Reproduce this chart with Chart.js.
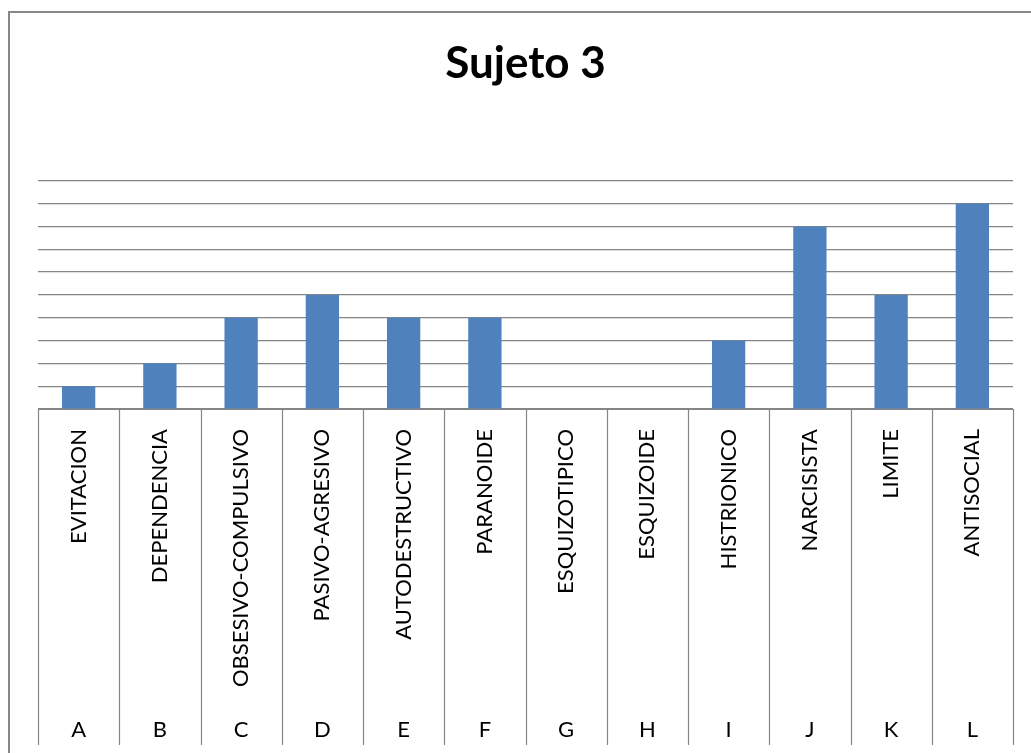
<!DOCTYPE html>
<html>
<head>
<meta charset="utf-8">
<script src="https://cdn.jsdelivr.net/npm/chart.js@4"></script>
<style>
  body { margin: 0; background: #fff; }
  #wrap { width: 1031px; height: 753px; }
</style>
</head>
<body>
<div id="wrap"><canvas id="myChart" width="1031" height="753"></canvas></div>
<script>
var categories = ['EVITACION', 'DEPENDENCIA', 'OBSESIVO-COMPULSIVO', 'PASIVO-AGRESIVO', 'AUTODESTRUCTIVO', 'PARANOIDE',
    'ESQUIZOTIPICO', 'ESQUIZOIDE', 'HISTRIONICO', 'NARCISISTA', 'LIMITE', 'ANTISOCIAL']
var letters = ['A', 'B', 'C', 'D', 'E', 'F', 'G', 'H', 'I', 'J', 'K', 'L']
var values = [1, 2, 4, 5, 4, 4, 0, 0, 3, 8, 5, 9]

var labelFont = 'Lato, "Open Sans", sans-serif'

// borde exterior y lineas de la tabla de categorias
var tablePlugin = {
    id: 'tabla',
    afterDraw: (chart) => {
        var ctx = chart.ctx
        var x = chart.scales.x
        var area = chart.chartArea
        var bottom = chart.scales.x2.bottom
        var half = (x.getPixelForValue(1) - x.getPixelForValue(0)) / 2
        ctx.save()
        ctx.strokeStyle = '#858585'
        ctx.lineWidth = 1.2
        for (var i = 0; i <= categories.length; i++) {
            var px
            if (i < categories.length) {
                px = x.getPixelForValue(i) - half
            } else {
                px = x.getPixelForValue(i - 1) + half
            }
            px = Math.round(px) + 0.5
            ctx.beginPath()
            ctx.moveTo(px, area.bottom)
            ctx.lineTo(px, bottom)
            ctx.stroke()
        }
        ctx.beginPath()
        ctx.moveTo(area.left, Math.round(area.bottom) + 0.5)
        ctx.lineTo(area.right, Math.round(area.bottom) + 0.5)
        ctx.stroke()
        ctx.lineWidth = 2
        ctx.strokeStyle = '#878787'
        ctx.strokeRect(9, 12, 1100, 900)
        ctx.restore()
    }
}

const ctx = document.getElementById('myChart');
const myChart = new Chart(ctx, {
    type: 'bar',
    data: {
        labels: categories,
        datasets: [{
            label: 'Sujeto 3',
            data: values,
            backgroundColor: '#4F81BD',
            borderWidth: 0,
            categoryPercentage: 1,
            barPercentage: 0.41
        }]
    },
    options: {
        responsive: false,
        animation: false,
        layout: {
            padding: { left: 38, right: 18, top: 0, bottom: 8 }
        },
        plugins: {
            legend: { display: false },
            tooltip: { enabled: false },
            title: {
                display: true,
                text: 'Sujeto 3',
                color: '#000',
                font: { family: labelFont, size: 44, weight: 'bold', lineHeight: 1.2 },
                padding: { top: 37, bottom: 91 }
            }
        },
        scales: {
            x: {
                position: 'bottom',
                grid: { display: false, drawTicks: false },
                border: { display: false },
                ticks: {
                    color: '#000',
                    font: { family: labelFont, size: 22 },
                    minRotation: 90,
                    maxRotation: 90,
                    autoSkip: false,
                    padding: 20
                },
                afterFit: (s) => { s.height = 285 }
            },
            x2: {
                type: 'category',
                position: 'bottom',
                labels: letters,
                grid: { display: false, drawTicks: false },
                border: { display: false },
                ticks: {
                    color: '#000',
                    font: { family: labelFont, size: 22 },
                    maxRotation: 0,
                    autoSkip: false,
                    padding: 23
                },
                afterFit: (s) => { s.height = 51 }
            },
            y: {
                min: 0,
                max: 10,
                ticks: { display: false, stepSize: 1 },
                grid: { color: '#858585', lineWidth: 1.2, drawTicks: false },
                border: { display: false }
            }
        }
    },
    plugins: [tablePlugin]
});
</script>
</body>
</html>
